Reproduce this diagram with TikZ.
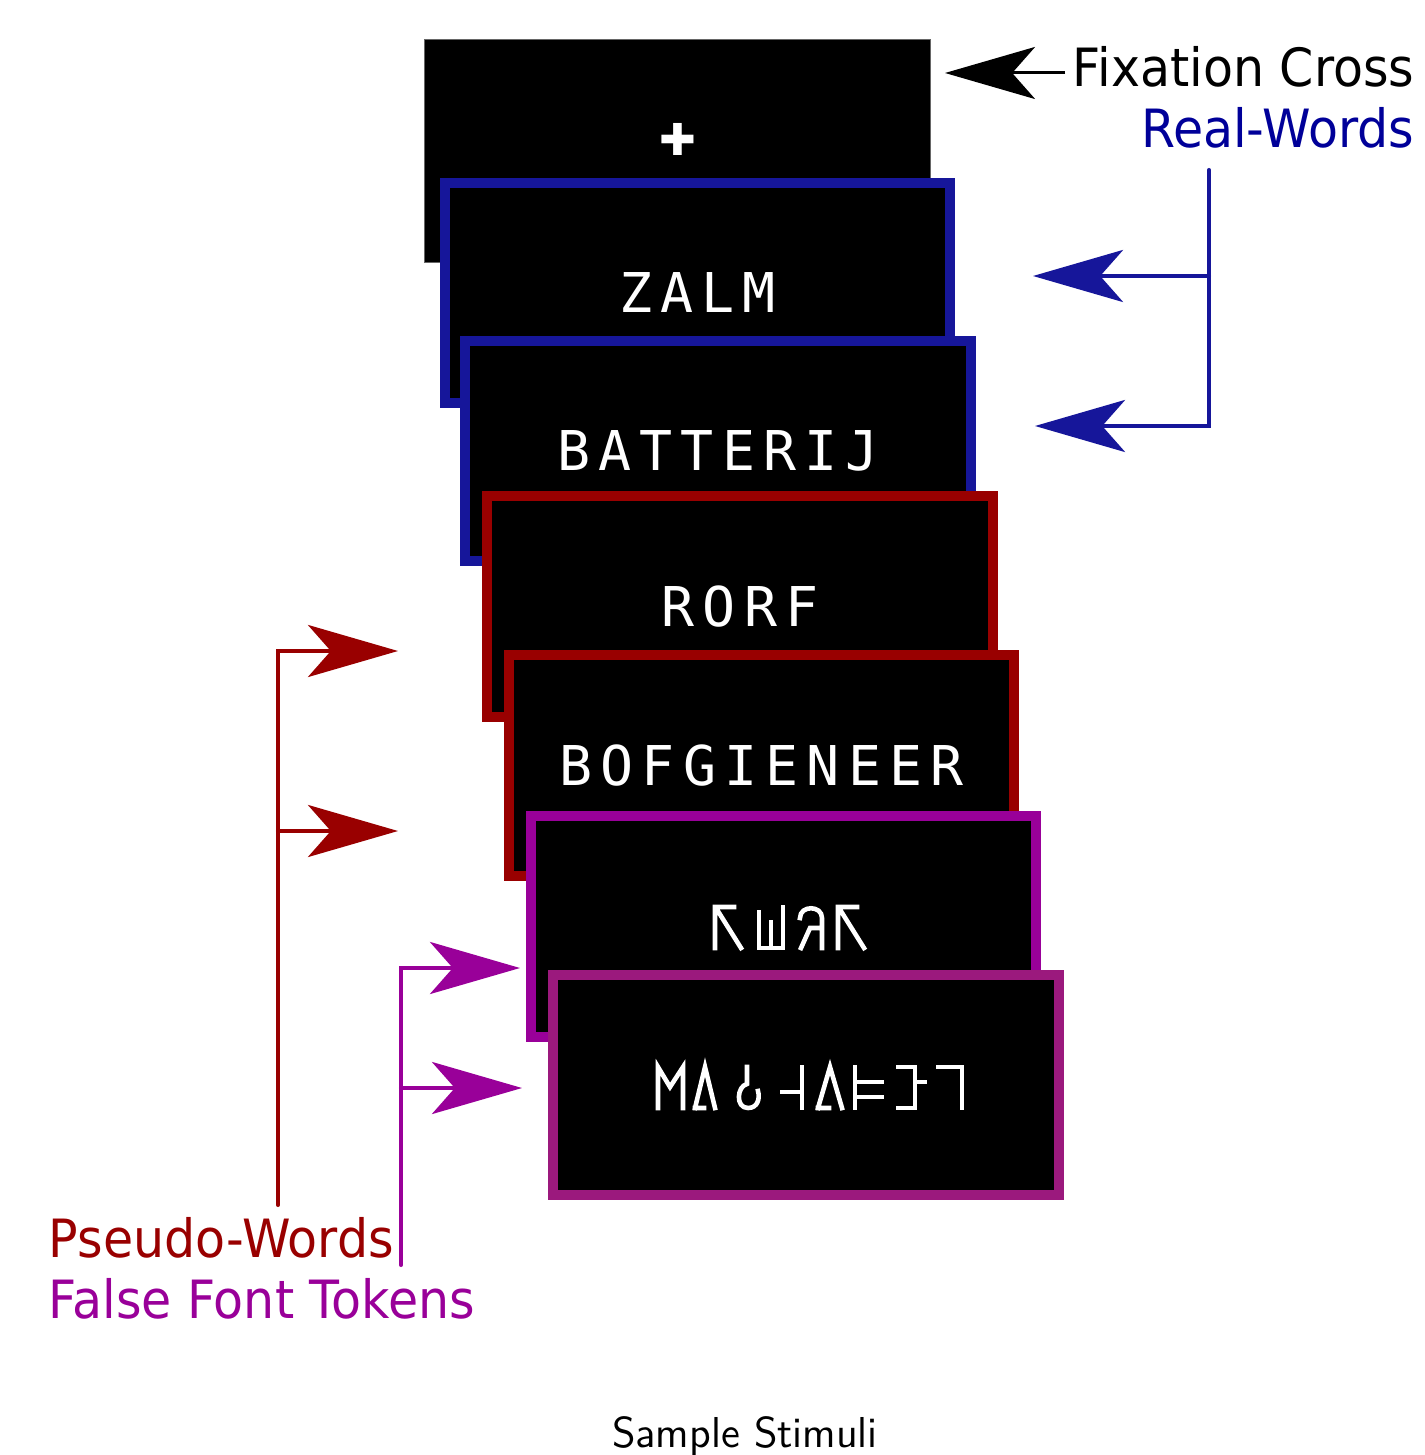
\documentclass[tikz,border=0pt]{standalone}
\usepackage{fontspec}
\usetikzlibrary{arrows.meta}
\newfontfamily\labelfont[FakeStretch=0.93]{DejaVu Sans}
\newfontfamily\crossfont{DejaVu Sans}
\newfontfamily\stimfont[LetterSpace=15]{DejaVu Sans Mono}
\definecolor{rwblue}{RGB}{22,22,154}
\definecolor{rwtext}{RGB}{0,0,153}
\definecolor{pwred}{RGB}{153,0,0}
\definecolor{ffpurple}{RGB}{153,0,153}
\definecolor{ffpink}{RGB}{155,25,125}
\tikzset{
	card/.style={rectangle,fill=black,text=white,line width=2.85pt,minimum width=5.05cm,minimum height=2.2cm,inner sep=0pt,font=\stimfont\fontsize{15.6}{18}\selectfont},
	glyph/.style={white,line width=1.3pt,line cap=rect,line join=miter},
	bigtip/.style={-{Stealth[length=25.6pt,width=14.8pt,inset=6.5pt]}},
	lbl/.style={inner sep=2pt,font=\labelfont\fontsize{15}{18}\selectfont},
	brace/.style={line width=1.15pt,line cap=round},
}
\begin{document}
\begin{tikzpicture}[x=0.01cm,y=-0.01cm]
			\useasboundingbox (0,0) rectangle (1425,1455);
			% stimulus screens, back to front
			\node[card,draw=black!60,line width=0.3pt,minimum height=2.22cm] (fix) at (677.5,151) {};
			\node[text=white,font=\crossfont\fontsize{12.5}{15}\selectfont] (cross) at (678,139) {✚};
			\node[card,draw=rwblue] (zalm) at (697.5,293) {ZALM};
			\node[card,draw=rwblue] (batterij) at (718,451) {BATTERIJ};
			\node[card,draw=pwred] (rorf) at (740,606.5) {RORF};
			\node[card,draw=pwred] (bofgieneer) at (761.5,765.5) {BOFGIENEER};
			\node[card,draw=ffpurple] (ffa) at (783.5,926.5) {};
			\node[card,draw=ffpink] (ffb) at (806,1085) {};
			% false font glyphs
			\draw[glyph] (715,948) -- (715,907) -- (734,907) (716,908) -- (741,948);
			\draw[glyph] (759,912) -- (759,948) -- (783,948) -- (783,907) (771,922) -- (771,948);
			\draw[glyph] (800,918) .. controls (800,905) and (822,905) .. (822,918) -- (822,948) (822,928) -- (810,928) -- (801,948);
			\draw[glyph] (838,948) -- (838,907) -- (857,907) (839,908) -- (864,948);
			\draw[glyph] (658,1108) -- (658,1067) -- (670,1087) -- (683,1067) -- (683,1108);
			\draw[glyph] (695,1108) -- (705,1067) -- (715,1108) (695,1108) -- (704,1108);
			\draw[glyph] (747,1067) -- (747,1084) .. controls (737,1086) and (735,1108) .. (748,1108) .. controls (758,1108) and (760,1098) .. (758,1091);
			\draw[glyph] (782,1092) -- (802,1092) (802,1067) -- (802,1108);
			\draw[glyph] (818,1108) -- (830,1067) -- (842,1108) (818,1108) -- (829,1108);
			\draw[glyph] (855,1067) -- (855,1108) (855,1082) -- (882,1082) (855,1097) -- (882,1097);
			\draw[glyph] (898,1067) -- (915,1067) -- (915,1108) -- (898,1108) (915,1082) -- (925,1082);
			\draw[glyph] (938,1067) -- (962,1067) -- (962,1108);
			% labels
			\node[lbl,anchor=base east] (fixlbl) at (1422,87) {Fixation Cross};
			\node[lbl,anchor=base east,text=rwtext] (rwlbl) at (1422,148) {Real-Words};
			\node[lbl,anchor=base west,text=pwred] (pwlbl) at (41,1257) {Pseudo-Words};
			\node[lbl,anchor=base west,text=ffpurple] (fflbl) at (41,1318) {False Font Tokens};
			\node[font=\sffamily\fontsize{12.3}{15}\selectfont,anchor=base] (title) at (745,1447) {Sample Stimuli};
			% brackets
			\coordinate (fixtip) at (945,73);
			\coordinate (rwtop) at (1209,170);
			\coordinate (rwa) at (1209,276);
			\coordinate (rwb) at (1209,426);
			\coordinate (rwtipa) at (1033,276);
			\coordinate (rwtipb) at (1035,426);
			\coordinate (pwbot) at (278,1205);
			\coordinate (pwa) at (278,651);
			\coordinate (pwb) at (278,831);
			\coordinate (pwtipa) at (398,651);
			\coordinate (pwtipb) at (398,831);
			\coordinate (ffbot) at (401,1265);
			\coordinate (ffa) at (401,968);
			\coordinate (ffb) at (401,1088);
			\coordinate (fftipa) at (520,968);
			\coordinate (fftipb) at (522,1088);
			\draw[bigtip,line width=0.85pt] (fixlbl.west |- fixtip) -- (fixtip);
			\draw[brace,bigtip,rwblue] (rwtop) -- (rwb) -- (rwtipb);
			\draw[brace,bigtip,rwblue] (rwa) -- (rwtipa);
			\draw[brace,bigtip,pwred] (pwbot) -- (pwa) -- (pwtipa);
			\draw[brace,bigtip,pwred] (pwb) -- (pwtipb);
			\draw[brace,bigtip,ffpurple] (ffbot) -- (ffa) -- (fftipa);
			\draw[brace,bigtip,ffpurple] (ffb) -- (fftipb);
		\end{tikzpicture}
\end{document}
